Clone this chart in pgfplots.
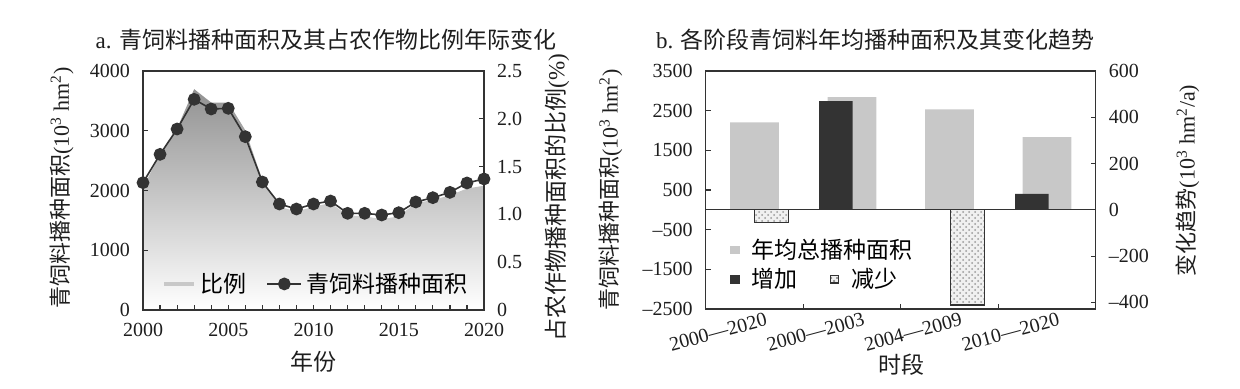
\documentclass[border=0pt]{standalone}
\usepackage{fontspec}
\setmainfont{Liberation Serif}
\newfontfamily\cjk{Noto Sans CJK SC}
\usepackage{pgfplots}
\pgfplotsset{compat=1.18}
\usetikzlibrary{patterns}

\definecolor{dk}{HTML}{333333}
\definecolor{lg}{HTML}{C8C8C8}
\definecolor{tx}{HTML}{1E1E1E}
\definecolor{areatop}{HTML}{929292}

\pgfplotsset{
  base/.style={
    scale only axis,
    font=\fontsize{10}{12}\selectfont,
    /pgf/number format/assume math mode=true,
    /pgf/number format/1000 sep={},
    tick align=inside,
    axis line style={dk, line width=0.7pt},
    every tick/.style={dk, line width=0.6pt},
    major tick length=2.5pt, minor tick length=2.5pt,
    tick label style={text=tx},
    label style={text=tx, font=\fontsize{11}{13}\selectfont},
  }
}

\pgfplotstableread{
year ratio area
2000 1.28 2131
2001 1.63 2605
2002 1.90 3029
2003 2.31 3526
2004 2.17 3364
2005 2.17 3375
2006 1.88 2901
2007 1.36 2142
2008 1.08 1774
2009 1.03 1690
2010 1.08 1774
2011 1.12 1824
2012 0.99 1618
2013 0.98 1618
2014 0.95 1590
2015 0.98 1629
2016 1.12 1808
2017 1.15 1880
2018 1.20 1969
2019 1.27 2126
2020 1.30 2193
}\yeartable

\pgfplotstableread{
x total
0 2202
1 2842
2 2531
3 1830
}\totaltable

\pgfplotstableread{
x inc
0.835 470
2.845 69
}\inctable

\pgfplotstableread{
x dec
0.175 -55
2.185 -411
}\dectable

\begin{document}
\begin{tikzpicture}
\useasboundingbox (0,0) rectangle (620pt,194.5pt);

% ---------------- Panel a ----------------
\begin{axis}[base,
  at={(71.5pt,39.5pt)}, anchor=south west,
  width=170.5pt, height=119.5pt,
  xmin=2000, xmax=2020, ymin=0, ymax=2.5,
  axis y line*=right, hide x axis,
  ytick={0,0.5,1,1.5,2,2.5},
  yticklabels={0,0.5,1.0,1.5,2.0,2.5},
  yticklabel style={xshift=3pt},
  ylabel={{\cjk 占农作物播种面积的比例}(\%)},
  ylabel style={at={(rel axis cs:1,0.47)}, anchor=center, yshift=-36.5pt, font=\fontsize{11.5}{13}\selectfont},
]
\addplot[draw=none, top color=areatop, bottom color=white, forget plot] table[x=year, y=ratio] {\yeartable} \closedcycle;
\end{axis}

\begin{axis}[base,
  at={(71.5pt,39.5pt)}, anchor=south west,
  width=170.5pt, height=119.5pt,
  xmin=2000, xmax=2020, ymin=0, ymax=4000,
  xtick={2000,2005,2010,2015,2020},
  minor x tick num=4,
  ytick={0,1000,2000,3000,4000},
  xtick pos=bottom, ytick pos=left,
  yticklabel style={xshift=-3pt},
  xticklabel style={yshift=-3pt},
  xlabel={\cjk 年份},
  xlabel style={at={(rel axis cs:0.5,0)}, anchor=center, yshift=-26pt, font=\fontsize{11.5}{13}\selectfont},
  ylabel={{\cjk 青饲料播种面积}(10\textsuperscript{3} hm\textsuperscript{2})},
  ylabel style={at={(rel axis cs:0,0.51)}, anchor=center, yshift=40.5pt},
  legend style={at={(0.055,0.109)}, anchor=west, draw=none, fill=none,
    font=\fontsize{11.5}{13}\selectfont\cjk, inner sep=0pt,
    /tikz/every even column/.append style={column sep=8pt}},
  legend columns=2,
]
\addlegendimage{legend image code/.code={\draw[line width=2.2pt, color=lg] (0pt,0pt) -- (15pt,0pt);}}
\addlegendentry{比例}
\addplot[dk, line width=0.8pt, mark=*, mark size=2.8pt, mark options={fill=dk, draw=dk},
  legend image code/.code={\draw[dk, line width=0.8pt] (0pt,0pt) -- (17pt,0pt); \fill[dk] (8.5pt,0pt) circle (2.8pt);}]
  table[x=year, y=area] {\yeartable};
\addlegendentry{青饲料播种面积}
\end{axis}

\node[font=\fontsize{11.5}{13}\selectfont, text=tx] at (163pt,174.5pt) {a. {\cjk 青饲料播种面积及其占农作物比例年际变化}};

% ---------------- Panel b ----------------
\begin{axis}[base,
  at={(352.85pt,40pt)}, anchor=south west,
  width=195pt, height=119pt,
  xmin=-0.5, xmax=3.5, ymin=-2500, ymax=3500,
  xtick={0,1,2,3},
  xticklabels={2000—2020,2000—2003,2004—2009,2010—2020},
  every major x tick/.append style={draw=none},
  minor xtick={0.5,1.5,2.5},
  ytick={-2500,-1500,-500,500,1500,2500,3500},
  yticklabels={–2500,–1500,–500,500,1500,2500,3500},
  xtick pos=bottom, ytick pos=left,
  yticklabel style={xshift=-3pt},
  xticklabel style={rotate=15, anchor=north east, xshift=8pt, yshift=0.5pt},
  xlabel={\cjk 时段},
  xlabel style={at={(rel axis cs:0.503,0)}, anchor=center, yshift=-28pt, font=\fontsize{11.5}{13}\selectfont},
  ylabel={{\cjk 青饲料播种面积}(10\textsuperscript{3} hm\textsuperscript{2})},
  ylabel style={at={(rel axis cs:0,0.5)}, anchor=center, yshift=47.5pt},
  legend style={at={(0.06,0.248)}, anchor=west, draw=none, fill=none,
    font=\fontsize{11.5}{13}\selectfont\cjk, inner sep=0pt},
]
\addplot[fill=lg, draw=none, ybar, bar width=0.5, bar shift=0pt,
  legend image code/.code={\fill[lg] (0pt,-2.2pt) rectangle (5pt,2.2pt);}]
  table[x=x, y=total] {\totaltable};
\addlegendentry{\hspace{4pt}年均总播种面积}
\end{axis}

\begin{axis}[base,
  at={(352.85pt,40pt)}, anchor=south west,
  width=195pt, height=119pt,
  xmin=-0.5, xmax=3.5, ymin=-428.57, ymax=600,
  axis y line*=right, hide x axis,
  ytick={-400,-200,0,200,400,600},
  yticklabels={–400,–200,0,200,400,600},
  yticklabel style={xshift=3pt},
  ylabel={{\cjk 变化趋势}(10\textsuperscript{3} hm\textsuperscript{2}/a)},
  ylabel style={at={(rel axis cs:1,0.54)}, anchor=center, yshift=-46pt},
  legend style={at={(0.06,0.124)}, anchor=west, draw=none, fill=none,
    font=\fontsize{11.5}{13}\selectfont\cjk, inner sep=0pt,
    /tikz/every even column/.append style={column sep=14pt}},
  legend columns=2,
]
\addplot[fill=dk, draw=none, ybar, bar width=0.345, bar shift=0pt,
  legend image code/.code={\fill[dk] (0pt,-2.2pt) rectangle (5pt,2.2pt);}]
  table[x=x, y=inc] {\inctable};
\addlegendentry{\hspace{4pt}增加}
\addplot[fill=gray!12, draw=dk, line width=0.6pt, ybar, bar width=0.355, bar shift=0pt,
  postaction={pattern=crosshatch dots, pattern color=gray!80},
  legend image code/.code={\draw[dk, fill=gray!12, line width=0.5pt] (0.5pt,-1.8pt) rectangle (4.5pt,1.8pt); \fill[pattern=crosshatch dots, pattern color=gray] (0.5pt,-1.8pt) rectangle (4.5pt,1.8pt);}]
  table[x=x, y=dec] {\dectable};
\addlegendentry{\hspace{4.5pt}减少}
\addplot[dk, line width=0.6pt, forget plot] coordinates {(-0.5,0) (3.5,0)};
\end{axis}

\node[font=\fontsize{11.5}{13}\selectfont, text=tx] at (437.75pt,174.5pt) {b. {\cjk 各阶段青饲料年均播种面积及其变化趋势}};

\end{tikzpicture}
\end{document}
